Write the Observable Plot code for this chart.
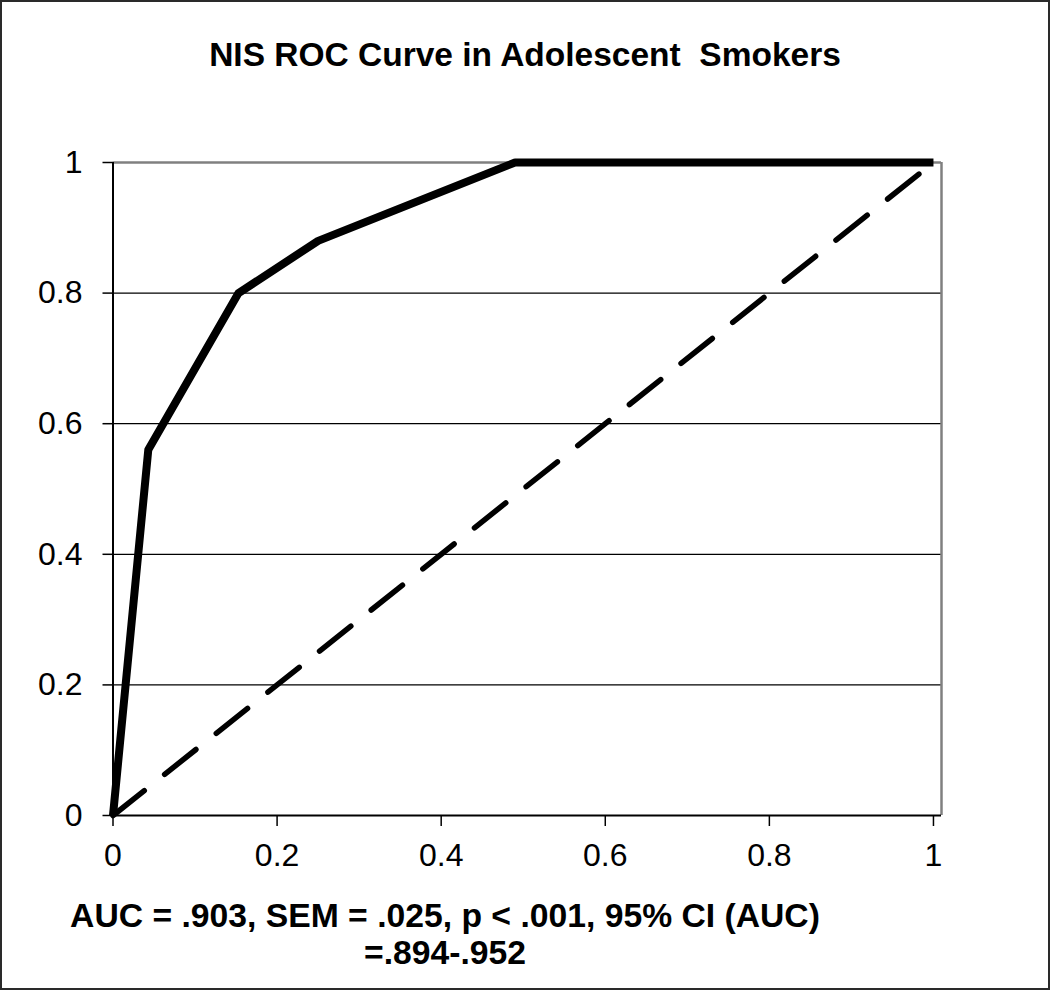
<!DOCTYPE html>
<html>
<head>
<meta charset="utf-8">
<script src="https://cdn.jsdelivr.net/npm/d3@7"></script>
<script src="https://cdn.jsdelivr.net/npm/@observablehq/plot@0.6"></script>
<style>
  html, body { margin: 0; padding: 0; background: #fff; }
  body { width: 1050px; height: 990px; position: relative; overflow: hidden; font-family: "Liberation Sans", Arial, sans-serif; }
  #frame { position: absolute; left: 0; top: 0; width: 1050px; height: 990px; box-sizing: border-box; border: 2px solid #2a2a2a; pointer-events: none; }
  #title { height: 120px; width: 1050px; text-align: center; font-weight: bold; font-size: 33.5px; line-height: 110px; color: #000; white-space: nowrap; }
  #chart svg { display: block; }
  #caption { width: 890px; text-align: center; font-weight: bold; font-size: 33.7px; line-height: 37px; color: #000; margin-top: 17px; white-space: nowrap; }
</style>
</head>
<body>
<div id="title">NIS ROC Curve in Adolescent&nbsp; Smokers</div>
<div id="chart"></div>
<div id="caption">AUC = .903, SEM = .025, p &lt; .001, 95% CI (AUC)<br>=.894-.952</div>
<div id="frame"></div>
<script>
// ROC curve vertices (1 - specificity, sensitivity)
const fpr = [0, 0.043, 0.153, 0.25, 0.49, 1];
const tpr = [0, 0.56, 0.80, 0.88, 1, 1];
// reference (chance) line
const refX = [0, 1];
const refY = [0, 1];
// ticks
const xTicks = [0, 0.2, 0.4, 0.6, 0.8, 1];
const yTicks = [0, 0.2, 0.4, 0.6, 0.8, 1];
const gridY = [0.2, 0.4, 0.6, 0.8];
const xMax = 1.0098;

const roc = fpr.map((x, i) => ({x, y: tpr[i]}));
const ref = refX.map((x, i) => ({x, y: refY[i]}));

const chart = Plot.plot({
  width: 1050,
  height: 760,
  marginTop: 42,
  marginBottom: 65,
  marginLeft: 112.5,
  marginRight: 109,
  style: {fontSize: "32px", fontFamily: "'Liberation Sans', Arial, sans-serif", color: "#000", background: "transparent"},
  x: {domain: [0, xMax], ticks: xTicks},
  y: {domain: [0, 1], ticks: yTicks},
  marks: [
    Plot.ruleY(gridY, {stroke: "#000", strokeWidth: 1.3}),
    Plot.ruleY([1], {stroke: "#808080", strokeWidth: 2.5}),
    Plot.ruleX([xMax], {stroke: "#808080", strokeWidth: 2.5}),
    Plot.line(ref, {x: "x", y: "y", stroke: "#000", strokeWidth: 5.5, strokeDasharray: "40,26", strokeLinecap: "round"}),
    Plot.line(roc, {x: "x", y: "y", stroke: "#000", strokeWidth: 8, strokeLinejoin: "round", strokeLinecap: "butt"}),
    Plot.ruleX([0], {stroke: "#000", strokeWidth: 2}),
    Plot.ruleY([0], {stroke: "#000", strokeWidth: 2}),
    Plot.axisX(xTicks, {tickSize: 11, tickPadding: 17, label: null, stroke: "#000", strokeWidth: 1.5, tickFormat: d => String(d), fill: "#000", fontSize: 32}),
    Plot.axisY(yTicks, {tickSize: 10, tickPadding: 20.5, label: null, stroke: "#000", strokeWidth: 1.5, tickFormat: d => String(d), fill: "#000", fontSize: 32})
  ]
});
document.getElementById("chart").appendChild(chart);
</script>
</body>
</html>
